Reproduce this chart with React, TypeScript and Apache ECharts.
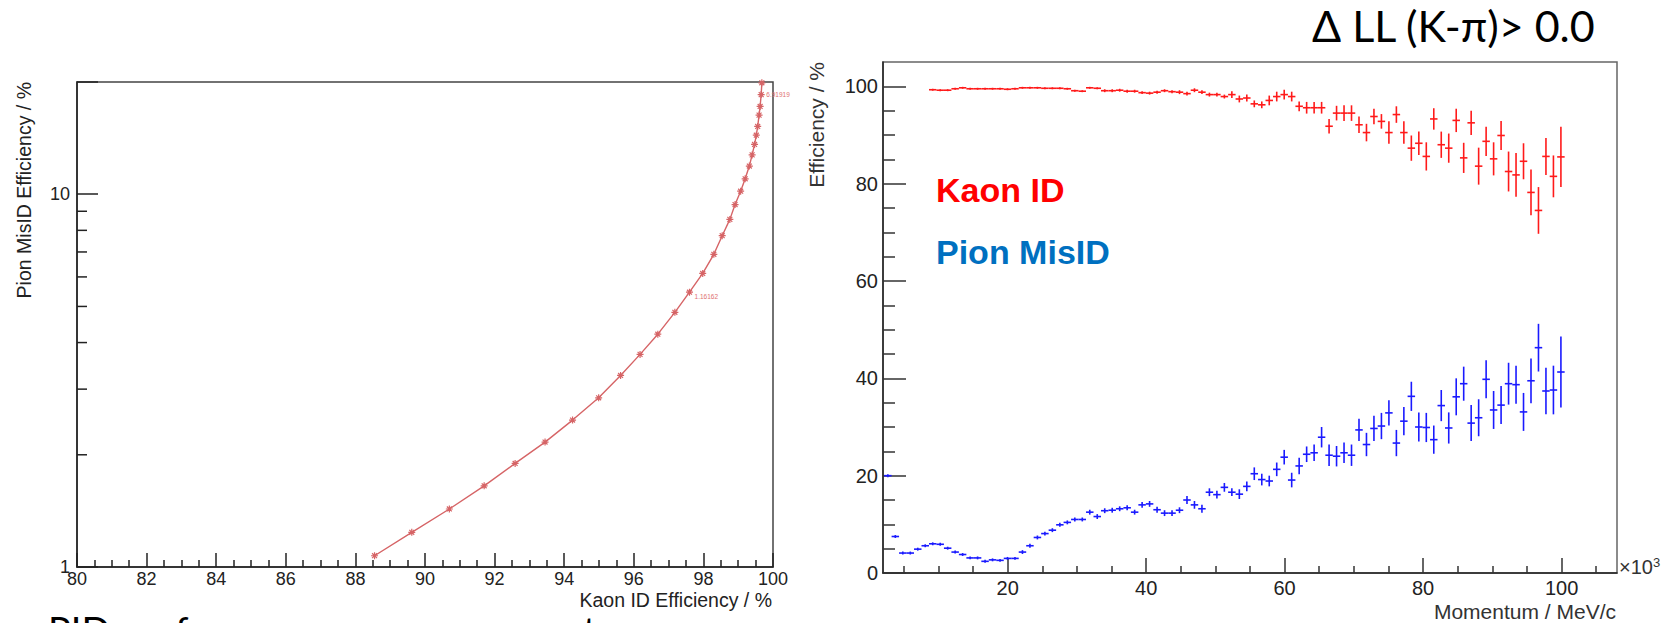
import React, { useEffect, useRef } from 'react';
import * as echarts from 'echarts';

// ---------- Left panel: ROC curve ----------
const rocKaonEff = [88.55, 89.62, 90.70, 91.70, 92.59, 93.45, 94.24, 94.99, 95.62, 96.18, 96.69, 97.18, 97.60, 97.98, 98.30, 98.54, 98.76, 98.91, 99.07, 99.20, 99.32, 99.40, 99.47, 99.52, 99.56, 99.60, 99.63, 99.66, 99.68];
const rocPionMisID = [1.072, 1.239, 1.431, 1.651, 1.896, 2.163, 2.478, 2.844, 3.265, 3.718, 4.213, 4.821, 5.46, 6.13, 6.90, 7.74, 8.56, 9.38, 10.19, 11.0, 11.9, 12.75, 13.6, 14.4, 15.2, 16.3, 17.2, 18.5, 19.9];
const rocLabelIndex = [12, 27];
const rocLabelText = ['1.16162', '6.91919'];

const leftXMajor = [80, 82, 84, 86, 88, 90, 92, 94, 96, 98, 100];
const leftYLabels = [1, 10];
const leftYMinor = [2, 3, 4, 5, 6, 7, 8, 9];

// ---------- Right panel: efficiency vs momentum (x10^3 MeV/c) ----------
const momentum = [2.70, 3.78, 4.86, 5.94, 7.02, 8.10, 9.18, 10.26, 11.34, 12.42, 13.50, 14.58, 15.66, 16.74, 17.82, 18.90, 19.98, 21.06, 22.14, 23.22, 24.30, 25.38, 26.46, 27.54, 28.62, 29.70, 30.78, 31.86, 32.94, 34.02, 35.10, 36.18, 37.26, 38.34, 39.42, 40.50, 41.58, 42.66, 43.74, 44.82, 45.90, 46.98, 48.06, 49.14, 50.22, 51.30, 52.38, 53.46, 54.54, 55.62, 56.70, 57.78, 58.86, 59.94, 61.02, 62.10, 63.18, 64.26, 65.34, 66.42, 67.50, 68.58, 69.66, 70.74, 71.82, 72.90, 73.98, 75.06, 76.14, 77.22, 78.30, 79.38, 80.46, 81.54, 82.62, 83.70, 84.78, 85.86, 86.94, 88.02, 89.10, 90.18, 91.26, 92.34, 93.42, 94.50, 95.58, 96.66, 97.74, 98.82, 99.90];
const binHalfWidth = 0.54;

const pionMisID = [20.0, 7.5, 4.1, 4.1, 4.9, 5.6, 6.0, 5.9, 5.1, 4.3, 3.8, 3.1, 3.1, 2.4, 2.7, 2.6, 3.0, 3.0, 4.3, 5.6, 7.3, 8.1, 8.8, 9.9, 10.4, 11.0, 11.0, 12.5, 11.6, 12.8, 12.9, 13.2, 13.4, 12.5, 14.0, 14.2, 13.0, 12.3, 12.3, 12.9, 15.0, 14.0, 13.2, 16.6, 16.1, 17.6, 16.6, 16.2, 17.8, 20.4, 19.2, 18.9, 21.3, 23.8, 19.1, 22.0, 24.4, 24.7, 27.9, 24.2, 24.0, 24.7, 24.2, 29.4, 26.4, 29.7, 30.2, 32.9, 26.7, 31.2, 36.3, 30.0, 29.9, 27.4, 34.4, 29.8, 36.2, 38.9, 30.8, 31.9, 39.8, 33.5, 34.5, 38.9, 38.7, 33.1, 39.5, 46.3, 37.4, 37.6, 41.3];
const pionErr = [0.3, 0.3, 0.3, 0.3, 0.3, 0.3, 0.3, 0.3, 0.3, 0.3, 0.3, 0.3, 0.3, 0.3, 0.3, 0.3, 0.3, 0.3, 0.4, 0.4, 0.4, 0.4, 0.4, 0.4, 0.4, 0.4, 0.4, 0.5, 0.5, 0.5, 0.5, 0.5, 0.5, 0.5, 0.6, 0.6, 0.6, 0.6, 0.6, 0.6, 0.8, 0.8, 0.8, 0.8, 0.8, 0.9, 0.8, 1.0, 1.0, 1.3, 1.2, 1.1, 1.4, 1.5, 1.5, 1.7, 1.6, 1.7, 2.1, 2.2, 2.1, 2.1, 2.2, 2.3, 2.4, 2.6, 2.7, 2.6, 2.7, 2.9, 3.0, 3.0, 3.0, 2.9, 3.2, 3.2, 3.8, 3.5, 3.7, 3.8, 3.9, 3.9, 3.9, 4.3, 3.9, 3.9, 4.6, 4.9, 4.8, 5.0, 7.3];

const kaonFirstBin = 6; // kaon ID histogram starts at momentum[6]
const kaonID = [99.3, 99.2, 99.2, 99.5, 99.7, 99.5, 99.5, 99.5, 99.5, 99.5, 99.4, 99.5, 99.7, 99.7, 99.7, 99.6, 99.6, 99.6, 99.5, 99.1, 99.0, 99.7, 99.6,
  99.1, 99.1, 99.2, 99.0, 99.0, 98.7, 98.6, 98.8, 99.1, 98.9, 98.8, 98.5, 99.2, 98.8, 98.3, 98.3, 97.9, 98.3, 97.4, 97.6, 96.4, 96.2, 97.1, 97.9, 98.3, 97.9, 95.9, 95.6, 95.6, 95.6,
  91.8, 94.5, 94.5, 94.5, 92.1, 90.5, 93.8, 92.8, 90.5, 94.2, 90.5, 87.3, 88.3, 85.6, 93.3, 88.0, 87.3, 93.0, 85.3, 92.5, 83.6, 88.7, 85.1, 89.9, 82.5, 81.8, 84.6, 78.2, 74.5, 85.6, 81.5, 85.5];
const kaonErr = [0.2, 0.2, 0.2, 0.2, 0.2, 0.2, 0.2, 0.2, 0.2, 0.2, 0.2, 0.2, 0.2, 0.2, 0.2, 0.2, 0.2, 0.2, 0.2, 0.2, 0.2, 0.2, 0.2,
  0.3, 0.3, 0.3, 0.3, 0.3, 0.3, 0.3, 0.3, 0.3, 0.3, 0.4, 0.4, 0.4, 0.4, 0.4, 0.4, 0.4, 0.7, 0.7, 0.7, 0.7, 0.7, 1.0, 1.0, 1.0, 1.0, 1.0, 1.2, 1.2, 1.2,
  1.5, 1.5, 1.6, 1.6, 1.7, 1.8, 1.6, 1.5, 2.3, 1.7, 2.3, 2.6, 2.4, 2.9, 2.2, 2.7, 3.0, 2.4, 3.1, 2.5, 3.8, 3.0, 3.4, 3.0, 4.1, 4.5, 3.7, 4.7, 4.8, 3.8, 4.3, 6.2];

const rightXMajor = [20, 40, 60, 80, 100];
const rightXMinor = [5, 10, 15, 25, 30, 35, 45, 50, 55, 65, 70, 75, 85, 90, 95, 105];
const rightYMajor = [0, 20, 40, 60, 80, 100];
const rightYMinor = [5, 10, 15, 25, 30, 35, 45, 50, 55, 65, 70, 75, 85, 90, 95];

const FONT = '"Liberation Sans", Arial, Helvetica, sans-serif';
const SLIDE_FONT = 'Lato, "Open Sans", sans-serif';
const ROC_COLOR = '#d66466';
const AXIS_COLOR = '#222';

function leftXMinorTicks() {
  const out: number[] = [];
  for (let v = 80.5; v < 100; v += 0.5) {
    if (Math.abs(v - Math.round(v / 2) * 2) > 1e-6) out.push(v);
  }
  return out;
}

function errorBarSeries(xs: number[], ys: number[], es: number[], color: string) {
  return {
    type: 'custom',
    xAxisIndex: 2,
    yAxisIndex: 1,
    clip: true,
    silent: true,
    data: xs.map((x, i) => [x, ys[i], es[i]]),
    renderItem: (params: any, api: any) => {
      const x = api.value(0);
      const y = api.value(1);
      const e = api.value(2);
      const pl = api.coord([x - binHalfWidth, y]);
      const pr = api.coord([x + binHalfWidth, y]);
      const pt = api.coord([x, y + e]);
      const pb = api.coord([x, y - e]);
      const st = { stroke: color, lineWidth: 1.6 };
      return {
        type: 'group',
        children: [
          { type: 'line', shape: { x1: pl[0], y1: pl[1], x2: pr[0], y2: pr[1] }, style: st },
          { type: 'line', shape: { x1: pt[0], y1: pt[1], x2: pb[0], y2: pb[1] }, style: st },
        ],
      };
    },
  };
}

export default function App() {
  const ref = useRef<HTMLDivElement>(null);

  useEffect(() => {
    if (!ref.current) return;
    const chart = echarts.init(ref.current, null, { renderer: 'svg' });

    const rocData = rocKaonEff.map((x, i) => {
      const li = rocLabelIndex.indexOf(i);
      if (li >= 0) {
        return {
          value: [x, rocPionMisID[i]],
          label: {
            show: true,
            formatter: rocLabelText[li],
            position: 'right',
            distance: 1,
            offset: [0, li === 0 ? 4 : 0],
            fontSize: 6.5,
            color: '#e07070',
            fontFamily: FONT,
          },
        };
      }
      return [x, rocPionMisID[i]];
    });

    const kaonX = momentum.slice(kaonFirstBin, kaonFirstBin + kaonID.length);

    const tickLabelStyle = { color: AXIS_COLOR, fontFamily: FONT };

    chart.setOption({
      animation: false,
      backgroundColor: '#ffffff',
      grid: [
        { left: 77, top: 82, width: 696, height: 485, show: true, borderColor: '#444', borderWidth: 1.5, backgroundColor: 'transparent' },
        { left: 883, top: 62, width: 734, height: 511, show: true, borderColor: '#666', borderWidth: 1.5, backgroundColor: 'transparent' },
      ],
      xAxis: [
        {
          gridIndex: 0, type: 'value', position: 'bottom', min: 80, max: 100,
          axisLine: { show: true, lineStyle: { color: AXIS_COLOR, width: 1.5 } },
          axisTick: { show: true, inside: true, length: 14, customValues: leftXMajor, lineStyle: { color: AXIS_COLOR, width: 1.5 } },
          axisLabel: { show: true, customValues: leftXMajor, fontSize: 18, margin: 3, ...tickLabelStyle },
          splitLine: { show: false },
        },
        {
          gridIndex: 0, type: 'value', position: 'bottom', min: 80, max: 100,
          axisLine: { show: false },
          axisTick: { show: true, inside: true, length: 7, customValues: leftXMinorTicks(), lineStyle: { color: AXIS_COLOR, width: 1.5 } },
          axisLabel: { show: false },
          splitLine: { show: false },
        },
        {
          gridIndex: 1, type: 'value', position: 'bottom', min: 2, max: 108,
          axisLine: { show: true, lineStyle: { color: AXIS_COLOR, width: 1.5 } },
          axisTick: { show: true, inside: true, length: 15, customValues: rightXMajor, lineStyle: { color: '#333', width: 1.5 } },
          axisLabel: { show: true, customValues: rightXMajor, fontSize: 20, margin: 5, ...tickLabelStyle },
          splitLine: { show: false },
        },
        {
          gridIndex: 1, type: 'value', position: 'bottom', min: 2, max: 108,
          axisLine: { show: false },
          axisTick: { show: true, inside: true, length: 7, customValues: rightXMinor, lineStyle: { color: '#333', width: 1.5 } },
          axisLabel: { show: false },
          splitLine: { show: false },
        },
      ],
      yAxis: [
        {
          gridIndex: 0, type: 'log', position: 'left', logBase: 10, min: 1, max: 20,
          axisLine: { show: true, lineStyle: { color: AXIS_COLOR, width: 1.5 } },
          axisTick: { show: true, inside: true, length: 21, lineStyle: { color: AXIS_COLOR, width: 1.5 } },
          axisLabel: {
            show: true, fontSize: 18, margin: 7, ...tickLabelStyle,
            formatter: (v: number) => {
              const hit = leftYLabels.find((l) => Math.abs(v - l) < 1e-6);
              return hit !== undefined ? String(hit) : '';
            },
          },
          splitLine: { show: false },
        },
        {
          gridIndex: 1, type: 'value', position: 'left', min: 0, max: 105,
          axisLine: { show: true, lineStyle: { color: AXIS_COLOR, width: 1.5 } },
          axisTick: { show: true, inside: true, length: 23, customValues: rightYMajor, lineStyle: { color: '#333', width: 1.5 } },
          axisLabel: { show: true, customValues: rightYMajor, fontSize: 20, margin: 5, ...tickLabelStyle },
          splitLine: { show: false },
        },
        {
          gridIndex: 1, type: 'value', position: 'left', min: 0, max: 105,
          axisLine: { show: false },
          axisTick: { show: true, inside: true, length: 12, customValues: rightYMinor, lineStyle: { color: '#333', width: 1.5 } },
          axisLabel: { show: false },
          splitLine: { show: false },
        },
      ],
      series: [
        {
          type: 'custom',
          xAxisIndex: 0,
          yAxisIndex: 0,
          silent: true,
          data: leftYMinor.map((v) => [80, v]),
          renderItem: (params: any, api: any) => {
            const p = api.coord([api.value(0), api.value(1)]);
            return {
              type: 'line',
              shape: { x1: p[0], y1: p[1], x2: p[0] + 10, y2: p[1] },
              style: { stroke: AXIS_COLOR, lineWidth: 1.5 },
            };
          },
        },
        {
          type: 'line',
          xAxisIndex: 0,
          yAxisIndex: 0,
          data: rocData,
          symbol: 'path://M0,5L10,5M5,0L5,10M1.5,1.5L8.5,8.5M8.5,1.5L1.5,8.5',
          symbolSize: 7,
          showAllSymbol: true,
          itemStyle: { color: 'rgba(0,0,0,0)', borderColor: ROC_COLOR, borderWidth: 1.2 },
          lineStyle: { color: ROC_COLOR, width: 1.4 },
          silent: true,
        },
        errorBarSeries(kaonX, kaonID, kaonErr, '#ff1a1a'),
        errorBarSeries(momentum, pionMisID, pionErr, '#1a1aff'),
      ],
      graphic: [
        { type: 'text', x: 24, y: 82, rotation: Math.PI / 2, style: { text: 'Pion MisID Efficiency / %', fontSize: 19.5, fontFamily: FONT, fill: AXIS_COLOR, align: 'right', verticalAlign: 'middle' } },
        { type: 'text', x: 772, y: 600, style: { text: 'Kaon ID Efficiency / %', fontSize: 19.5, fontFamily: FONT, fill: AXIS_COLOR, align: 'right', verticalAlign: 'middle' } },
        { type: 'text', x: 816, y: 62, rotation: Math.PI / 2, style: { text: 'Efficiency / %', fontSize: 21, fontFamily: FONT, fill: '#333', align: 'right', verticalAlign: 'middle' } },
        { type: 'text', x: 1616, y: 611, style: { text: 'Momentum / MeV/c', fontSize: 21, fontFamily: FONT, fill: '#333', align: 'right', verticalAlign: 'middle' } },
        {
          type: 'text', x: 1619, y: 567,
          style: {
            text: '×10{sup|3}', fontSize: 20, fontFamily: FONT, fill: '#333', align: 'left', verticalAlign: 'middle',
            rich: { sup: { fontSize: 13, fontFamily: FONT, fill: '#333', verticalAlign: 'top', padding: [0, 0, 10, 0] } },
          },
        },
        { type: 'text', x: 1312, y: 25, style: { text: 'Δ LL (K-π)> 0.0', fontSize: 43, fontFamily: SLIDE_FONT, fill: '#000', align: 'left', verticalAlign: 'middle' } },
        { type: 'text', x: 936, y: 190, style: { text: 'Kaon ID', fontSize: 34, fontWeight: 'bold', fontFamily: FONT, fill: '#ff0000', align: 'left', verticalAlign: 'middle' } },
        { type: 'text', x: 936, y: 252, style: { text: 'Pion MisID', fontSize: 34, fontWeight: 'bold', fontFamily: FONT, fill: '#0070c0', align: 'left', verticalAlign: 'middle' } },
        { type: 'text', x: 48, y: 630, style: { text: 'PID performance versus momentum', fontSize: 38, fontFamily: SLIDE_FONT, fill: '#000', align: 'left', verticalAlign: 'middle' } },
      ],
    });

    return () => chart.dispose();
  }, []);

  return (
    <div
      ref={ref}
      style={{ position: 'fixed', left: 0, top: 0, width: 1666, height: 623, background: '#fff' }}
    />
  );
}
